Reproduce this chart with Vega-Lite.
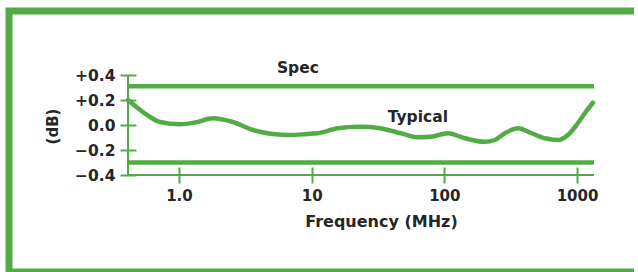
{
  "$schema": "https://vega.github.io/schema/vega-lite/v6.json",
  "width": 629,
  "height": 261,
  "autosize": "none",
  "padding": {"left": 9, "top": 11, "right": 0, "bottom": 0},
  "background": "white",
  "view": {
    "strokeWidth": 7,
    "stroke": {"gradient": "linear", "x1": 0, "y1": 0, "x2": 1, "y2": 0, "stops": [{"offset": 0, "color": "#52ac45"}, {"offset": 0.993, "color": "#52ac45"}, {"offset": 0.994, "color": "white"}, {"offset": 1, "color": "white"}]}
  },
  "config": {
    "view": {
      "strokeWidth": 7,
      "stroke": {"gradient": "linear", "x1": 0, "y1": 0, "x2": 1, "y2": 0, "stops": [{"offset": 0, "color": "#52ac45"}, {"offset": 0.993, "color": "#52ac45"}, {"offset": 0.994, "color": "white"}, {"offset": 1, "color": "white"}]}
    },
    "font": "DejaVu Sans"
  },
  "datasets": {
    "curve": [
      {"f": 0.413, "dB": 0.2},
      {"f": 0.535, "dB": 0.104},
      {"f": 0.719, "dB": 0.024},
      {"f": 1.02, "dB": 0.006},
      {"f": 1.32, "dB": 0.02},
      {"f": 1.8, "dB": 0.054},
      {"f": 2.55, "dB": 0.024},
      {"f": 3.61, "dB": -0.04},
      {"f": 5.11, "dB": -0.072},
      {"f": 6.86, "dB": -0.08},
      {"f": 9.22, "dB": -0.072},
      {"f": 11.15, "dB": -0.066},
      {"f": 15.8, "dB": -0.026},
      {"f": 22.3, "dB": -0.014},
      {"f": 27.5, "dB": -0.016},
      {"f": 35.7, "dB": -0.034},
      {"f": 47.1, "dB": -0.066},
      {"f": 63.2, "dB": -0.098},
      {"f": 79.2, "dB": -0.094},
      {"f": 106.4, "dB": -0.066},
      {"f": 143, "dB": -0.106},
      {"f": 202, "dB": -0.134},
      {"f": 240, "dB": -0.12},
      {"f": 286, "dB": -0.066},
      {"f": 359, "dB": -0.026},
      {"f": 450, "dB": -0.064},
      {"f": 573, "dB": -0.106},
      {"f": 718, "dB": -0.12},
      {"f": 854, "dB": -0.08},
      {"f": 1016, "dB": 0.016},
      {"f": 1148, "dB": 0.096},
      {"f": 1318, "dB": 0.178}
    ],
    "spec": [{"dB": 0.31}, {"dB": -0.3}],
    "notes": [
      {"f": 7.88, "dB": 0.42, "text": "Spec"},
      {"f": 63.2, "dB": 0.026, "text": "Typical"}
    ]
  },
  "layer": [
    {
      "data": {"values": [{}]},
      "mark": {"type": "rule", "color": "#52ac45", "strokeWidth": 2},
      "encoding": {
        "x": {"datum": 0.413, "type": "quantitative", "scale": {"type": "log", "domain": [0.413, 1343], "range": [119, 585], "nice": false}},
        "x2": {"datum": 1343},
        "y": {"datum": -0.4, "type": "quantitative", "scale": {"domain": [-0.4, 0.4], "range": [164, 64], "nice": false, "zero": false}}
      }
    },
    {
      "data": {"values": [{}]},
      "mark": {"type": "rule", "color": "#52ac45", "strokeWidth": 2},
      "encoding": {
        "x": {"datum": 0.413, "type": "quantitative", "scale": {"type": "log", "domain": [0.413, 1343], "range": [119, 585], "nice": false}},
        "y": {"datum": -0.4, "type": "quantitative", "scale": {"domain": [-0.4, 0.4], "range": [164, 64], "nice": false, "zero": false}},
        "y2": {"datum": 0.4}
      }
    },
    {
      "data": {"name": "spec"},
      "mark": {"type": "rule", "color": "#52ac45", "strokeWidth": 4.5},
      "encoding": {
        "x": {"datum": 0.413, "type": "quantitative", "scale": {"type": "log", "domain": [0.413, 1343], "range": [119, 585], "nice": false}},
        "x2": {"datum": 1343},
        "y": {"field": "dB", "type": "quantitative", "scale": {"domain": [-0.4, 0.4], "range": [164, 64], "nice": false, "zero": false}}
      }
    },
    {
      "data": {"name": "curve"},
      "mark": {"type": "line", "color": "#52ac45", "strokeWidth": 4.5, "interpolate": "monotone", "strokeCap": "round"},
      "encoding": {
        "x": {
          "field": "f", "type": "quantitative",
          "scale": {"type": "log", "domain": [0.413, 1343], "range": [119, 585], "nice": false},
          "axis": {
            "orient": "bottom", "offset": -105, "domain": false, "grid": false,
            "values": [1, 10, 100, 1000],
            "labelExpr": "datum.value < 2 ? '1.0' : format(datum.value, 'd')",
            "tickSize": 16, "tickWidth": 2, "tickColor": "#52ac45",
            "labelPadding": 5, "labelFont": "DejaVu Sans", "labelFontWeight": "bold", "labelFontSize": 15, "labelColor": "#262626",
            "title": "Frequency (MHz)", "titleFont": "DejaVu Sans", "titleFontWeight": "bold", "titleFontSize": 16, "titleColor": "#262626",
            "titleX": 372, "titleY": 59, "titleAlign": "center", "titleBaseline": "alphabetic"
          }
        },
        "y": {
          "field": "dB", "type": "quantitative",
          "scale": {"domain": [-0.4, 0.4], "range": [164, 64], "nice": false, "zero": false},
          "axis": {
            "orient": "left", "offset": -127, "domain": false, "grid": false,
            "values": [-0.4, -0.2, 0, 0.2, 0.4],
            "labelExpr": "datum.value > 0.01 ? '+' + format(datum.value, '.1f') : (datum.value < -0.01 ? format(datum.value, '.1f') : '0.0')",
            "tickSize": 16, "tickWidth": 2, "tickColor": "#52ac45",
            "labelPadding": 5, "labelFont": "DejaVu Sans", "labelFontWeight": "bold", "labelFontSize": 15.5, "labelColor": "#262626",
            "title": "(dB)", "titleFont": "DejaVu Sans", "titleFontWeight": "bold", "titleFontSize": 15, "titleColor": "#262626",
            "titleX": -84, "titleY": 115, "titleAngle": -90, "titleAlign": "center", "titleBaseline": "middle"
          }
        }
      }
    },
    {
      "data": {"name": "notes"},
      "mark": {"type": "text", "font": "DejaVu Sans", "fontWeight": "bold", "fontSize": 15.5, "color": "#262626", "align": "center", "baseline": "alphabetic"},
      "encoding": {
        "x": {"field": "f", "type": "quantitative", "scale": {"type": "log", "domain": [0.413, 1343], "range": [119, 585], "nice": false}},
        "y": {"field": "dB", "type": "quantitative", "scale": {"domain": [-0.4, 0.4], "range": [164, 64], "nice": false, "zero": false}},
        "text": {"field": "text"}
      }
    }
  ]
}
